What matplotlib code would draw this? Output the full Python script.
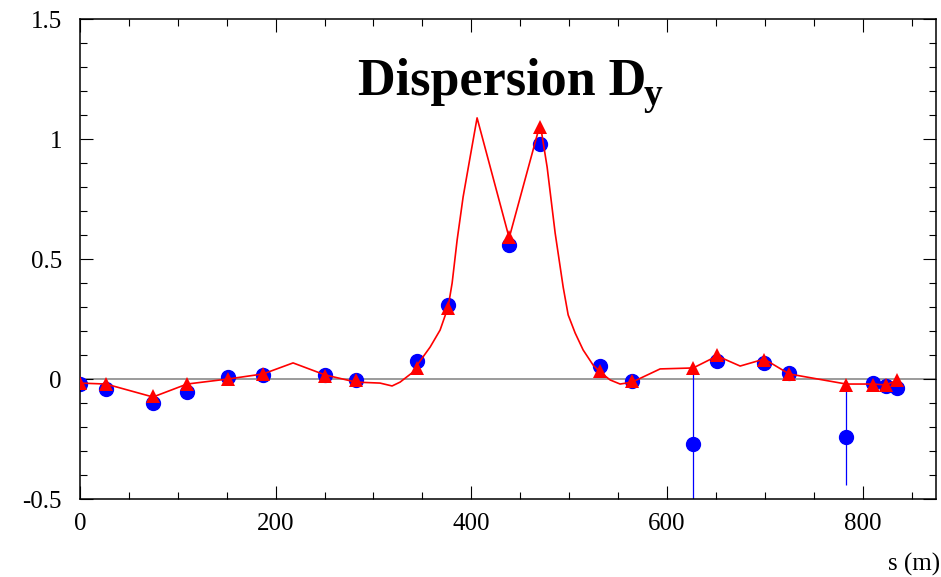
import matplotlib
matplotlib.use("Agg")
import matplotlib.pyplot as plt
from matplotlib.ticker import MultipleLocator

plt.rcParams['font.family'] = ['Liberation Serif', 'DejaVu Serif']

# BPM positions (m)
s_bpm = [0, 26.6, 74.6, 109.4, 151.3, 187.1, 250.5, 282.2, 344.6, 376.3, 438.7,
         470.4, 531.7, 564.4, 626.8, 651.3, 699.4, 724.9, 783.2, 810.8, 824.1, 835.4]
# measured dispersion (blue circles)
dy_meas = [-0.02, -0.04, -0.10, -0.054, 0.01, 0.016, 0.015, -0.005, 0.077, 0.31, 0.56,
           0.98, 0.054, -0.01, -0.27, 0.073, 0.068, 0.025, -0.243, -0.017, -0.03, -0.038]
dy_err = [0.01, 0.01, 0.01, 0.01, 0.01, 0.01, 0.01, 0.01, 0.01, 0.01, 0.01,
          0.03, 0.01, 0.01, 0.315, 0.01, 0.01, 0.01, 0.2, 0.01, 0.01, 0.01]
# model at BPMs (red triangles)
dy_model_bpm = [-0.017, -0.021, -0.072, -0.02, 0.0, 0.02, 0.013, -0.005, 0.045, 0.295, 0.59,
                1.05, 0.035, -0.01, 0.045, 0.098, 0.08, 0.02, -0.023, -0.023, -0.027, -0.006]
# model curve (red line)
s_model = [0, 26.6, 74.6, 109.4, 151.3, 187.1, 217.8, 250.5, 282.2, 306.7, 319.0, 327.2,
           340.5, 344.6, 357.9, 368.1, 376.3, 380.4, 385.5, 391.6, 398.8, 405.9, 438.7,
           470.4, 477.5, 485.7, 493.9, 499.0, 506.1, 514.3, 524.5, 531.7, 541.9, 552.1,
           564.4, 593.0, 626.8, 651.3, 674.8, 699.4, 724.9, 783.2, 810.8, 824.1, 835.4]
dy_model = [-0.017, -0.021, -0.075, -0.021, 0.0, 0.021, 0.067, 0.017, -0.013, -0.017,
            -0.029, -0.013, 0.029, 0.058, 0.133, 0.204, 0.300, 0.400, 0.579, 0.758, 0.925,
            1.088, 0.588, 1.063, 0.883, 0.608, 0.383, 0.267, 0.192, 0.121, 0.058, 0.029,
            -0.004, -0.021, -0.013, 0.042, 0.046, 0.096, 0.054, 0.083, 0.021, -0.021,
            -0.021, -0.025, -0.004]

x_ticks = [0, 200, 400, 600, 800]
y_ticks = [-0.5, 0, 0.5, 1, 1.5]
y_tick_labels = ['-0.5', '0', '0.5', '1', '1.5']

fig = plt.figure(figsize=(9.41, 5.77), dpi=100)
ax = fig.add_axes([80/941, 1 - 499/577, (936 - 80)/941, (499 - 19)/577])

ax.axhline(0, color='#808080', lw=1.1, zorder=1)

ax.errorbar(s_bpm, dy_meas, yerr=dy_err, fmt='o', color='blue', ms=10,
            elinewidth=0.9, capsize=0, zorder=2)
ax.plot(s_model, dy_model, color='red', lw=1.2, zorder=3)
ax.plot(s_bpm, dy_model_bpm, '^', color='red', ms=10, zorder=4, markeredgewidth=0)

ax.set_xlim(0, 875)
ax.set_ylim(-0.5, 1.5)
ax.set_xticks(x_ticks)
ax.set_xticklabels([str(v) for v in x_ticks])
ax.set_yticks(y_ticks)
ax.set_yticklabels(y_tick_labels)
ax.xaxis.set_minor_locator(MultipleLocator(50))
ax.yaxis.set_minor_locator(MultipleLocator(0.1))
ax.tick_params(which='both', direction='in', top=True, right=True, width=0.8, labelsize=18)
ax.tick_params(which='major', length=9.5)
ax.tick_params(which='minor', length=4.8)
ax.tick_params(axis='y', pad=13)
ax.tick_params(axis='x', pad=10)
for sp in ax.spines.values():
    sp.set_linewidth(1.1)

fig.text(358/941, 1 - 95/577, 'Dispersion D', fontsize=37.5,
         fontweight='bold', ha='left', va='baseline')
fig.text(644/941, 1 - 105/577, 'y', fontsize=27,
         fontweight='bold', ha='left', va='baseline')
fig.text(940/941, 1 - 571/577, 's (m)', fontsize=18, ha='right', va='baseline')

fig.savefig('out.png', dpi=100)
